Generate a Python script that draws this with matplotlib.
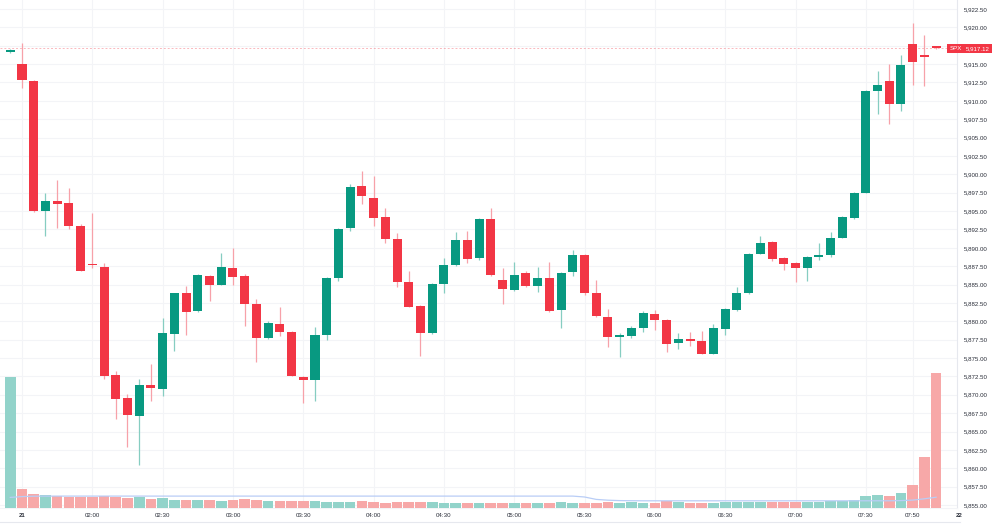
import matplotlib as mpl
mpl.use('Agg')
import matplotlib.pyplot as plt
from matplotlib.lines import Line2D
from matplotlib.ticker import FuncFormatter
import numpy as np

# 5 minute SPX bars, first bar is the last one of the previous session
opens = [5916.6, 5915.0, 5912.7, 5895.0, 5896.4, 5896.1, 5892.9, 5887.7, 5887.4, 5872.7,
         5869.6, 5867.1, 5871.3, 5870.8, 5878.3, 5883.8, 5881.4, 5886.1, 5885.0, 5887.3,
         5886.1, 5882.4, 5877.7, 5879.6, 5878.5, 5872.4, 5872.0, 5878.1, 5885.9, 5892.7,
         5898.4, 5896.8, 5894.2, 5891.2, 5885.4, 5882.1, 5878.4, 5885.1, 5887.7, 5891.1,
         5888.6, 5893.9, 5885.6, 5884.3, 5886.6, 5884.8, 5885.9, 5881.5, 5886.7, 5889.0,
         5883.9, 5880.6, 5877.9, 5878.0, 5879.1, 5881.0, 5880.2, 5877.0, 5877.6, 5877.3,
         5875.6, 5878.9, 5881.6, 5883.8, 5889.2, 5890.8, 5888.6, 5887.9, 5887.2, 5888.8,
         5889.0, 5891.4, 5894.0, 5897.5, 5911.4, 5912.7, 5909.6, 5917.8, 5916.1, 5917.4]
highs = [5917.0, 5917.9, 5912.8, 5897.5, 5899.2, 5898.1, 5893.2, 5894.8, 5887.9, 5873.2,
         5870.1, 5872.1, 5874.2, 5880.5, 5883.9, 5884.8, 5886.5, 5886.3, 5889.3, 5890.0,
         5886.5, 5883.0, 5880.0, 5881.9, 5878.7, 5872.5, 5879.2, 5886.0, 5892.7, 5898.7,
         5900.5, 5899.8, 5895.4, 5892.0, 5886.8, 5882.2, 5885.2, 5888.6, 5892.1, 5892.3,
         5894.0, 5895.4, 5887.2, 5888.0, 5886.8, 5887.4, 5888.0, 5886.7, 5889.7, 5889.1,
         5885.6, 5881.7, 5878.4, 5879.4, 5881.4, 5881.5, 5880.3, 5878.4, 5878.6, 5878.7,
         5879.6, 5881.8, 5884.6, 5889.3, 5891.6, 5890.9, 5888.8, 5888.0, 5888.9, 5890.6,
         5892.1, 5894.3, 5897.6, 5911.5, 5914.1, 5915.0, 5916.2, 5920.6, 5919.0, 5917.4]
lows = [5916.5, 5911.8, 5894.9, 5891.6, 5892.7, 5892.6, 5886.8, 5887.2, 5872.1, 5866.7,
        5862.9, 5860.5, 5869.1, 5869.8, 5876.0, 5878.2, 5881.2, 5882.8, 5884.9, 5885.0,
        5879.4, 5874.5, 5877.6, 5878.0, 5872.5, 5868.9, 5869.2, 5877.5, 5885.5, 5892.3,
        5895.9, 5892.9, 5890.6, 5884.7, 5881.9, 5875.3, 5878.3, 5883.8, 5887.5, 5887.9,
        5888.3, 5886.2, 5882.3, 5884.1, 5884.7, 5884.0, 5881.3, 5879.1, 5886.1, 5883.6,
        5880.6, 5876.5, 5875.2, 5877.7, 5878.5, 5878.8, 5875.8, 5876.2, 5876.7, 5875.5,
        5875.5, 5878.2, 5881.4, 5883.7, 5889.1, 5888.2, 5887.0, 5885.4, 5885.5, 5888.4,
        5888.8, 5891.3, 5893.9, 5897.4, 5908.2, 5906.9, 5908.6, 5912.1, 5912.0, 5917.1]
closes = [5916.9, 5912.8, 5895.0, 5896.3, 5896.0, 5892.9, 5886.9, 5887.6, 5872.6, 5869.4,
          5867.3, 5871.3, 5870.9, 5878.4, 5883.8, 5881.2, 5886.3, 5884.9, 5887.4, 5886.0,
          5882.3, 5877.7, 5879.7, 5878.5, 5872.6, 5872.0, 5878.1, 5885.9, 5892.6, 5898.3,
          5897.0, 5894.1, 5891.2, 5885.4, 5882.0, 5878.4, 5885.1, 5887.7, 5891.1, 5888.5,
          5893.9, 5886.3, 5884.4, 5886.3, 5884.8, 5885.9, 5881.4, 5886.6, 5889.0, 5883.8,
          5880.7, 5877.8, 5878.0, 5879.1, 5881.1, 5880.2, 5876.9, 5877.6, 5877.3, 5875.6,
          5879.1, 5881.7, 5883.8, 5889.2, 5890.7, 5888.5, 5887.8, 5887.2, 5888.8, 5889.0,
          5891.4, 5894.2, 5897.4, 5911.4, 5912.2, 5909.5, 5914.9, 5915.3, 5916.0, 5917.12]
volumes = [130.6, 19.3, 13.6, 13.3, 12.3, 11.3, 11.3, 11.3, 12.3, 11.0,
           9.6, 10.6, 8.6, 10.3, 8.3, 7.6, 8.3, 7.6, 7.3, 7.6,
           9.0, 8.3, 7.3, 6.6, 7.3, 7.3, 7.3, 6.3, 6.3, 6.3,
           7.0, 6.0, 5.3, 6.3, 6.3, 6.3, 6.3, 5.3, 5.3, 4.6,
           5.3, 5.3, 5.3, 5.3, 4.6, 5.3, 5.3, 6.0, 4.6, 5.3,
           5.3, 6.0, 5.3, 6.0, 5.3, 5.3, 6.6, 6.0, 5.3, 4.6,
           5.3, 6.3, 6.3, 6.3, 6.3, 5.6, 5.6, 6.0, 6.3, 6.3,
           7.0, 7.0, 7.6, 11.6, 12.6, 12.0, 15.0, 23.0, 50.6, 135.0]
vol_ma = [10.6, 11.4, 11.8, 11.9, 11.9, 11.9, 11.9, 11.9, 11.9, 11.9,
          11.9, 11.9, 11.9, 11.9, 11.9, 11.9, 11.9, 11.9, 11.9, 11.9,
          11.9, 11.9, 11.9, 11.9, 11.9, 11.9, 11.9, 11.9, 11.9, 11.9,
          11.9, 11.9, 11.9, 11.9, 11.9, 11.9, 11.9, 11.9, 11.9, 11.9,
          11.9, 11.9, 11.9, 11.9, 11.9, 11.9, 11.9, 11.9, 11.9, 11.0,
          8.6, 7.8, 7.4, 7.3, 7.2, 7.2, 7.2, 7.2, 7.2, 7.2,
          7.2, 7.2, 7.2, 7.2, 7.2, 7.2, 7.2, 7.2, 7.2, 7.2,
          7.2, 7.2, 7.2, 7.2, 7.2, 7.2, 7.4, 7.9, 9.2, 10.8]

time_ticks = [0, 6, 12, 18, 24, 30, 36, 42, 48, 54, 60, 66, 72, 76, 80]
time_labels = ['21', '02:00', '02:30', '03:00', '03:30', '04:00', '04:30', '05:00',
               '05:30', '06:00', '06:30', '07:00', '07:30', '07:50', '22']
price_ticks = np.arange(5855, 5923, 2.5)
last_price = 5917.12
symbol = 'SPX'

UP = '#089981'
DOWN = '#F23645'
TXT = '#2a2e39'
FONT = 'Liberation Sans'

o = np.array(opens)
h = np.array(highs)
l = np.array(lows)
c = np.array(closes)
idx = np.arange(len(o)) - 1
up = c >= o

fig = plt.figure(figsize=(10, 5.24), dpi=100)
rect = [0, 16 / 524, 0.957, 508 / 524]
ax = fig.add_axes(rect)
ax.set_xlim(-1.877, 79.78)
ax.set_ylim(5854.59, 5923.72)

# grid
ax.set_yticks(price_ticks)
ax.set_xticks(time_ticks[:-1])
ax.set_xticklabels([])
ax.grid(True, color='#f3f4f7', lw=0.8)
ax.set_axisbelow(True)
ax.yaxis.tick_right()
ax.yaxis.set_major_formatter(FuncFormatter(lambda v, p: f'{v:,.2f}'))
ax.tick_params(axis='y', length=0, pad=5, labelsize=4.4, labelcolor=TXT)
ax.tick_params(axis='x', length=0)
for lab in ax.get_yticklabels():
    lab.set_fontfamily(FONT)
for s in ['left', 'top']:
    ax.spines[s].set_visible(False)
ax.spines['right'].set_color('#e6e8ee')
ax.spines['bottom'].set_color('#f3f4f7')
ax.spines['right'].set_linewidth(0.8)

# candles
wick_col = np.where(up, '#86cdc1', '#f7a1a9')
body_col = np.where(up, UP, DOWN)
ax.vlines(idx, l, h, colors=wick_col, lw=0.9, zorder=2)
body = np.maximum(np.abs(c - o), 0.2)
ax.bar(idx, body, bottom=np.minimum(o, c), width=0.77, color=body_col, lw=0, zorder=3)

# last price line and labels (the box sits over the 5,917.50 tick as in the original)
ax.axhline(last_price, color=DOWN, alpha=0.35, lw=0.7, ls=(0, (2, 2)), zorder=1)
ax.text(0.9985, last_price, symbol, transform=ax.get_yaxis_transform(), ha='center', va='center',
        color='white', fontsize=4.4, family=FONT, clip_on=False, zorder=10,
        bbox=dict(boxstyle='square,pad=0.35', fc=DOWN, ec='none'))
ax.text(1.0219, last_price, f'{last_price:,.2f}', transform=ax.get_yaxis_transform(), ha='center',
        va='center', color='white', fontsize=4.4, family=FONT, clip_on=False, zorder=10,
        bbox=dict(boxstyle='square,pad=0.35', fc=DOWN, ec='none'))

# time labels
for t, lab in zip(time_ticks, time_labels):
    bold = lab in ('21', '22')
    ax.text(t, -0.0138, lab, transform=ax.get_xaxis_transform(), ha='center', va='center',
            fontsize=4.4, family=FONT, color=TXT, clip_on=False,
            fontweight='bold' if bold else 'normal')

# volume pane overlay
ax_v = fig.add_axes(rect, sharex=ax)
ax_v.patch.set_visible(False)
ax_v.axis('off')
ax_v.set_ylim(0, 508)
vol_col = np.where(up, '#92d3ca', '#f7a8a8')
ax_v.bar(idx, volumes, width=0.91, color=vol_col, lw=0)
ax_v.plot(idx, vol_ma, color='#b9cdf6', lw=0.9)

fig.add_artist(Line2D([0, 0.96], [2 / 524, 2 / 524], color='#e6e8ee', lw=0.8,
                      transform=fig.transFigure))

fig.savefig('out.png', dpi=100)
